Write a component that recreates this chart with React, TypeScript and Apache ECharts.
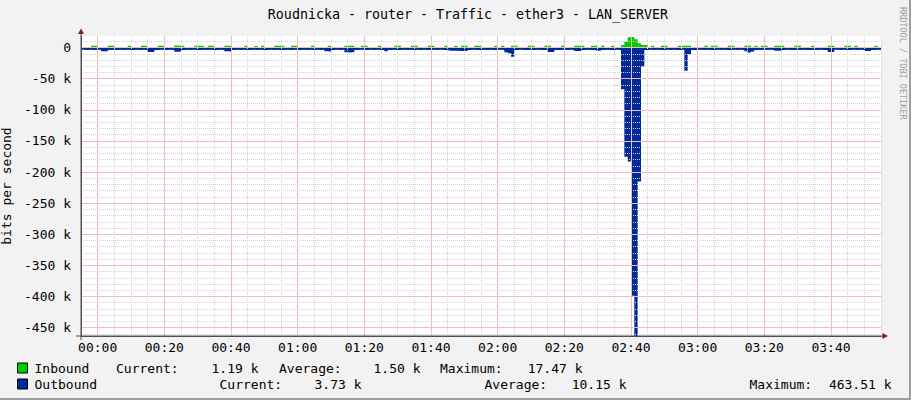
import React, { useEffect, useRef } from 'react';
import * as echarts from 'echarts';

const TITLE = 'Roudnicka - router - Traffic - ether3 - LAN_SERVER';
const Y_NAME = 'bits per second';
const WATERMARK = 'RRDTOOL / TOBI OETIKER';

// time axis, minutes after 00:00 (1 sample per minute)
const START_MIN = -5;
const STEP_MIN = 1;
const END_MIN = 235;

const X_TICKS = [0, 20, 40, 60, 80, 100, 120, 140, 160, 180, 200, 220];
const X_LABELS = ['00:00', '00:20', '00:40', '01:00', '01:20', '01:40', '02:00', '02:20', '02:40', '03:00', '03:20', '03:40'];

const Y_MIN = -463.51;
const Y_MAX = 18.7;
const Y_TICKS = [0, -50, -100, -150, -200, -250, -300, -350, -400, -450];
const Y_LABELS = ['0', '-50 k', '-100 k', '-150 k', '-200 k', '-250 k', '-300 k', '-350 k', '-400 k', '-450 k'];

const SERIES_NAMES = ['Inbound', 'Outbound'];
const IN_COLOR = '#00CC00';
const OUT_COLOR = '#002A97';

// kbit/s, one value per minute from 23:55
const INBOUND = [
  0.6, 0.7, 0.6, 3.0, 3.2, 0.8, 0.6, 0.7, 3.1, 2.9,
  0.6, 0.7, 0.6, 0.8, 3.0, 0.7, 0.6, 0.7, 3.2, 3.0,
  0.6, 0.7, 0.6, 3.0, 3.1, 0.7, 0.6, 0.8, 3.3, 3.1,
  2.9, 0.6, 0.7, 0.6, 3.0, 3.2, 2.8, 0.7, 3.0, 3.1,
  0.6, 0.7, 0.6, 3.1, 3.0, 0.7, 0.6, 0.7, 0.8, 3.0,
  0.6, 0.7, 2.8, 0.6, 3.0, 0.7, 0.6, 0.8, 3.2, 3.0,
  2.9, 0.6, 0.7, 3.1, 3.0, 0.6, 0.7, 0.6, 0.8, 3.0,
  0.7, 0.6, 0.7, 0.8, 3.1, 0.6, 0.7, 0.6, 0.8, 3.2,
  3.0, 2.9, 0.6, 0.7, 3.0, 3.1, 0.6, 0.7, 0.6, 3.0,
  0.7, 0.6, 0.7, 0.8, 3.1, 3.0, 0.6, 0.7, 0.6, 3.2,
  3.0, 0.6, 0.7, 0.6, 3.0, 3.1, 0.7, 0.6, 0.8, 3.0,
  0.6, 0.7, 3.0, 0.8, 3.1, 3.0, 0.6, 0.7, 3.2, 3.0,
  0.6, 0.7, 0.6, 0.8, 3.0, 0.7, 2.9, 0.6, 0.8, 3.1,
  3.0, 0.6, 0.7, 0.6, 3.0, 3.2, 0.7, 0.6, 0.8, 3.1,
  3.0, 0.6, 0.7, 0.6, 3.0, 0.7, 0.6, 0.8, 3.1, 3.2,
  2.9, 0.6, 0.7, 3.0, 3.1, 0.7, 3.0, 0.6, 0.8, 3.0,
  0.7, 0.8, 4.3, 9.6, 16.7, 17.47, 13.5, 7.0, 4.3, 4.3,
  0.7, 3.0, 0.6, 0.8, 3.1, 3.0, 0.6, 0.7, 0.6, 3.2,
  3.0, 3.1, 2.9, 0.6, 0.7, 0.6, 0.8, 3.0, 0.7, 3.1,
  3.0, 0.6, 0.7, 0.6, 3.0, 3.2, 0.7, 0.6, 0.8, 3.1,
  3.0, 0.6, 2.9, 0.7, 3.0, 3.1, 0.6, 0.7, 3.2, 3.0,
  2.9, 0.6, 0.7, 0.8, 3.0, 3.1, 0.6, 0.7, 0.6, 3.0,
  0.7, 0.6, 0.7, 0.8, 3.1, 3.0, 0.6, 0.7, 0.6, 3.2,
  3.0, 0.7, 2.9, 0.6, 0.7, 0.6, 0.8, 0.7, 3.0, 1.19,
];

// kbit/s, drawn below zero
const OUTBOUND = [
  -3.6, -3.8, -3.5, -3.7, -3.9, -3.6, -6.0, -6.2, -3.8, -3.6,
  -3.7, -3.5, -3.8, -3.6, -3.9, -3.7, -3.5, -3.8, -3.6, -4.0,
  -7.0, -7.2, -3.8, -3.6, -3.7, -3.9, -3.5, -3.8, -6.5, -6.3,
  -3.7, -3.6, -3.8, -3.5, -3.9, -3.7, -3.6, -3.8, -3.5, -3.7,
  -3.9, -3.6, -3.8, -6.0, -6.2, -3.7, -3.5, -3.8, -3.6, -3.9,
  -3.7, -3.5, -3.8, -3.6, -3.9, -3.7, -3.6, -3.8, -3.5, -3.7,
  -3.9, -3.6, -3.8, -3.5, -3.7, -3.9, -3.6, -3.8, -3.5, -3.7,
  -3.6, -3.8, -3.5, -6.0, -6.3, -3.7, -3.6, -3.8, -3.5, -7.5,
  -7.8, -7.2, -3.8, -3.6, -3.7, -3.9, -3.5, -3.8, -3.6, -3.7,
  -3.9, -6.0, -3.8, -3.5, -3.7, -3.9, -3.6, -3.8, -3.5, -3.7,
  -3.6, -3.8, -3.5, -3.9, -3.7, -3.6, -3.8, -3.5, -3.7, -3.9,
  -5.0, -5.2, -4.9, -5.5, -5.6, -5.4, -3.8, -3.6, -3.7, -3.9,
  -3.6, -3.8, -3.5, -3.7, -3.9, -3.6, -3.8, -7.5, -9.0, -14.5,
  -3.8, -3.6, -3.7, -3.9, -3.5, -3.8, -3.6, -3.7, -3.9, -3.6,
  -7.0, -7.2, -3.7, -3.9, -3.5, -3.8, -3.6, -3.7, -5.5, -5.6,
  -3.8, -3.6, -3.7, -3.9, -5.0, -5.1, -3.8, -3.6, -3.7, -3.9,
  -3.6, -3.8, -67.0, -175.5, -183.0, -399.0, -463.51, -215.0, -30.5, -3.9,
  -3.6, -3.8, -3.5, -3.7, -3.9, -3.6, -3.8, -3.5, -3.7, -3.9,
  -3.6, -37.0, -10.6, -3.7, -3.9, -3.5, -3.8, -3.6, -3.7, -3.9,
  -3.6, -3.8, -3.5, -3.7, -3.9, -3.6, -3.8, -3.5, -3.7, -6.0,
  -8.0, -6.2, -3.7, -3.9, -3.5, -3.8, -3.6, -3.7, -5.0, -5.2,
  -3.8, -3.6, -3.7, -3.9, -3.5, -3.8, -3.6, -3.7, -3.9, -3.6,
  -3.8, -3.5, -3.7, -3.9, -7.0, -7.2, -3.6, -3.8, -3.5, -3.7,
  -3.9, -3.6, -3.8, -3.5, -3.7, -5.5, -5.6, -3.8, -3.6, -3.73,
];

const STAT_LABELS = ['Current:', 'Average:', 'Maximum:'];
const IN_STATS = ['1.19 k', '1.50 k', '17.47 k'];
const OUT_STATS = ['3.73 k', '10.15 k', '463.51 k'];

const FONT = '"DejaVu Sans Mono", "Liberation Mono", monospace';

function toSeries(values: number[]) {
  const pts: [number, number][] = values.map((v, i) => [START_MIN + i * STEP_MIN, v]);
  pts.push([END_MIN, values[values.length - 1]]);
  return pts;
}

export default function App() {
  const ref = useRef<HTMLDivElement>(null);

  useEffect(() => {
    if (!ref.current) return;
    const chart = echarts.init(ref.current, undefined, { renderer: 'svg' });

    // minor grid positions (every 5 min / 10 k), skipping the major ones
    const xMinor: number[] = [];
    for (let m = START_MIN; m <= END_MIN; m += 5) if (X_TICKS.indexOf(m) < 0) xMinor.push(m);
    const yMinor: number[] = [];
    for (let v = 10; v >= -460; v -= 10) if (Y_TICKS.indexOf(v) < 0) yMinor.push(v);

    const minorLine = { color: '#D2D2D2', type: [1, 1] as number[], width: 1 };
    const majorLine = { color: '#EEBDBD', type: 'solid', width: 1 };
    const axisColor = '#505050';

    const statText = (text: string, x: number, y: number, align: string) => ({
      type: 'text',
      x,
      y,
      silent: true,
      style: { text, fill: '#000', font: `13px ${FONT}`, textAlign: align, textVerticalAlign: 'middle' },
    });

    const rowIn = 368;
    const rowOut = 384;

    chart.setOption({
      animation: false,
      backgroundColor: '#F2F2F2',
      grid: {
        left: 81, top: 36, width: 800, height: 300,
        show: true, backgroundColor: '#FFFFFF', borderWidth: 0,
        containLabel: false, outerBoundsMode: 'none',
      },
      legend: {
        orient: 'vertical',
        left: 17,
        top: 360,
        padding: 0,
        itemGap: 0,
        itemWidth: 10,
        itemHeight: 10,
        icon: 'rect',
        selectedMode: false,
        itemStyle: { borderColor: '#000', borderWidth: 1 },
        textStyle: { fontFamily: FONT, fontSize: 13, color: '#000', lineHeight: 16, padding: [0, 0, 0, 2] },
        data: SERIES_NAMES,
      },
      xAxis: [
        {
          type: 'value', position: 'bottom', min: START_MIN, max: END_MIN, z: 3,
          axisLine: { show: false }, axisTick: { show: false, customValues: xMinor }, axisLabel: { show: false },
          splitLine: { show: true, lineStyle: minorLine },
        },
        {
          type: 'value', position: 'bottom', min: START_MIN, max: END_MIN, z: 3,
          axisLine: { show: true, onZero: false, lineStyle: { color: axisColor, width: 1 } },
          axisTick: { show: false, customValues: X_TICKS },
          axisLabel: {
            customValues: X_TICKS,
            formatter: (v: number) => X_LABELS[X_TICKS.indexOf(v)] ?? '',
            fontFamily: FONT, fontSize: 13, color: '#000', margin: 5,
          },
          splitLine: { show: true, lineStyle: majorLine },
        },
      ],
      yAxis: [
        {
          type: 'value', position: 'left', min: Y_MIN, max: Y_MAX, z: 3,
          axisLine: { show: false }, axisTick: { show: false, customValues: yMinor }, axisLabel: { show: false },
          splitLine: { show: true, lineStyle: minorLine },
        },
        {
          type: 'value', position: 'left', min: Y_MIN, max: Y_MAX, z: 3,
          name: Y_NAME, nameLocation: 'middle', nameGap: 62, nameRotate: 90,
          nameTextStyle: { fontFamily: FONT, fontSize: 13, color: '#000' },
          axisLine: { show: true, onZero: false, lineStyle: { color: axisColor, width: 1 } },
          axisTick: { show: false, customValues: Y_TICKS },
          axisLabel: {
            customValues: Y_TICKS,
            formatter: (v: number) => Y_LABELS[Y_TICKS.indexOf(v)] ?? '',
            fontFamily: FONT, fontSize: 13, color: '#000', margin: 10,
          },
          splitLine: { show: true, lineStyle: majorLine },
        },
      ],
      series: [
        {
          name: SERIES_NAMES[0], type: 'line', xAxisIndex: 1, yAxisIndex: 1, step: 'end', symbol: 'none', z: 2,
          data: toSeries(INBOUND), silent: true,
          lineStyle: { width: 0 }, itemStyle: { color: IN_COLOR },
          areaStyle: { color: IN_COLOR, opacity: 1 },
        },
        {
          name: SERIES_NAMES[1], type: 'line', xAxisIndex: 1, yAxisIndex: 1, step: 'end', symbol: 'none', z: 2,
          data: toSeries(OUTBOUND), silent: true,
          lineStyle: { width: 0 }, itemStyle: { color: OUT_COLOR },
          areaStyle: { color: OUT_COLOR, opacity: 1 },
        },
      ],
      graphic: [
        { type: 'text', x: 468, y: 14, silent: true, style: { text: TITLE, fill: '#000', font: `13.3px ${FONT}`, textAlign: 'center', textVerticalAlign: 'middle' } },
        { type: 'text', x: 903, y: 7, rotation: -Math.PI / 2, silent: true, style: { text: WATERMARK, fill: '#A0A0A0', font: `8.5px ${FONT}`, textAlign: 'left', textVerticalAlign: 'middle' } },
        // axis extensions and arrows
        { type: 'line', silent: true, shape: { x1: 81, y1: 33, x2: 81, y2: 340 }, style: { stroke: axisColor, lineWidth: 1 }, z: 10 },
        { type: 'line', silent: true, shape: { x1: 76, y1: 336, x2: 884, y2: 336 }, style: { stroke: axisColor, lineWidth: 1 }, z: 10 },
        { type: 'polygon', silent: true, shape: { points: [[81, 28.5], [78, 34], [84, 34]] }, style: { fill: '#7F1F1F' }, z: 11 },
        { type: 'polygon', silent: true, shape: { points: [[888, 336], [882.5, 333], [882.5, 339]] }, style: { fill: '#7F1F1F' }, z: 11 },
        // frame shading
        { type: 'rect', silent: true, shape: { x: 909, y: 0, width: 2, height: 400 }, style: { fill: '#9E9E9E' } },
        { type: 'rect', silent: true, shape: { x: 0, y: 398, width: 911, height: 2 }, style: { fill: '#9E9E9E' } },
        // legend statistics
        statText(STAT_LABELS[0], 116, rowIn, 'left'),
        statText(IN_STATS[0], 258.5, rowIn, 'right'),
        statText(STAT_LABELS[1], 279, rowIn, 'left'),
        statText(IN_STATS[1], 420.5, rowIn, 'right'),
        statText(STAT_LABELS[2], 440, rowIn, 'left'),
        statText(IN_STATS[2], 582.5, rowIn, 'right'),
        statText(STAT_LABELS[0], 219.5, rowOut, 'left'),
        statText(OUT_STATS[0], 361.5, rowOut, 'right'),
        statText(STAT_LABELS[1], 484.5, rowOut, 'left'),
        statText(OUT_STATS[1], 626.5, rowOut, 'right'),
        statText(STAT_LABELS[2], 749.5, rowOut, 'left'),
        statText(OUT_STATS[2], 891.5, rowOut, 'right'),
      ],
    });

    return () => chart.dispose();
  }, []);

  return <div ref={ref} style={{ position: 'absolute', left: 0, top: 0, width: 911, height: 400 }} />;
}
